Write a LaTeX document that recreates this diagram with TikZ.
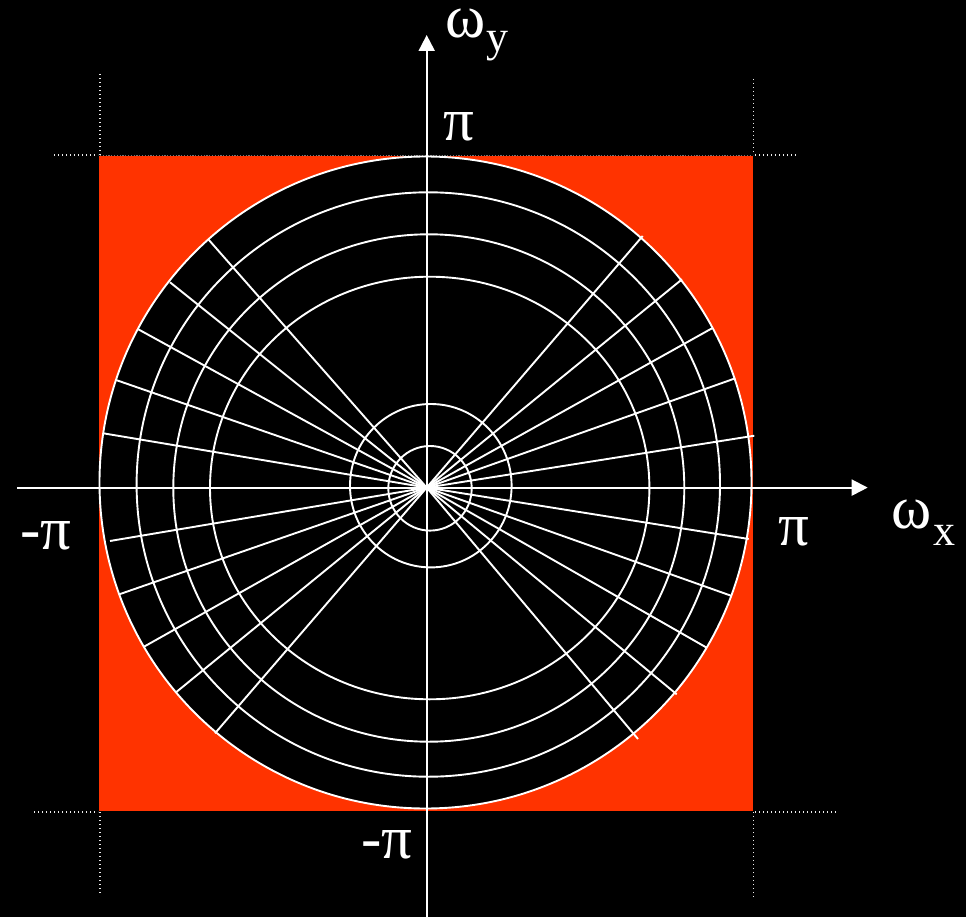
\documentclass[tikz,border=0pt]{standalone}
\usepackage{fontspec}
\setmainfont{Liberation Serif}
\usetikzlibrary{arrows.meta}
\definecolor{sqred}{RGB}{255,51,0}
\begin{document}
\begin{tikzpicture}[x=1pt,y=-1pt,
  grid/.style={white,line width=1.9pt},
  axisline/.style={white,line width=2pt,-{Triangle[length=16pt,width=16pt]}},
  dotln/.style={line width=1.6pt,color=white!92!black,dash pattern=on 1.4pt off 2.6pt},
  faintln/.style={line width=0.8pt,color=white!45!black,dash pattern=on 1.2pt off 1.6pt},
  lab/.style={white,inner sep=0pt,anchor=base west,text height=0.5em,text depth=0pt,font=\fontsize{61}{63}\selectfont},
  sublab/.style={white,inner sep=0pt,anchor=base west,text height=0.5em,text depth=0.2em,font=\fontsize{44}{46}\selectfont}]
\fill[black] (0,0) rectangle (966,917);
\useasboundingbox (0,0) rectangle (966,917);
% dotted guide lines
\draw[dotln] (99.8,74) -- (99.8,155);
\draw[dotln] (99.8,812) -- (99.8,893);
\draw[dotln] (753.3,79) -- (753.3,155);
\draw[dotln] (753.3,812) -- (753.3,897);
\draw[dotln] (54,155) -- (98,155);
\draw[dotln] (755,155) -- (796,155);
\draw[dotln] (34,811.7) -- (98,811.7);
\draw[dotln] (755,811.7) -- (836,811.7);
\draw[faintln] (100,155) -- (752,155);
% red square
\fill[sqred] (99,156) rectangle (752.5,810.7);
% outer disc
\fill[black] (425.5,482.5) circle [radius=326pt];
\draw[grid] (425.5,482.5) circle [radius=326pt];
% concentric circles
\draw[grid] (428.3,484.5) ellipse [x radius=291.7pt,y radius=292.2pt];
\draw[grid] (428.8,488) ellipse [x radius=255.5pt,y radius=253.7pt];
\draw[grid] (429.7,488) ellipse [x radius=219.7pt,y radius=211.3pt];
\draw[grid] (430.8,485.7) ellipse [x radius=80.8pt,y radius=81.7pt];
\draw[grid] (430,488.3) ellipse [x radius=41.7pt,y radius=42.3pt];
% radial lines
\coordinate (o) at (426.7,487.6);
\foreach \p in {(642.7,236),(682,279.3),(712,328.3),(735.3,378.3),(754.3,435.7),
                (208.3,239.3),(170,282.3),(138.3,329.3),(116,380),(103.3,433.3),
                (110,541),(119.3,594.3),(144,646.7),(176,692.3),(215,733.3),
                (748.7,539),(731,595.7),(706.7,647.7),(676.7,694.3),(638,739)}
  \draw[grid] (o) -- \p;
% axes
\coordinate (xl) at (17.3,487.6);
\coordinate (xr) at (867.7,487.6);
\coordinate (yb) at (426.7,917);
\coordinate (yt) at (426.7,35);
\draw[axisline] (xl) -- (xr);
\draw[axisline] (yb) -- (yt);
% labels
\node[lab] (wy) at (445,38) {ω};
\node[sublab] (wysub) at (486,52) {y};
\node[lab] (pitop) at (443,141) {π};
\node[lab] (piright) at (778,545) {π};
\node[lab] (pileft) at (20,549) {-π};
\node[lab] (pibot) at (361,858) {-π};
\node[lab] (wx) at (891,528) {ω};
\node[sublab] (wxsub) at (933,545) {x};
\end{tikzpicture}
\end{document}
